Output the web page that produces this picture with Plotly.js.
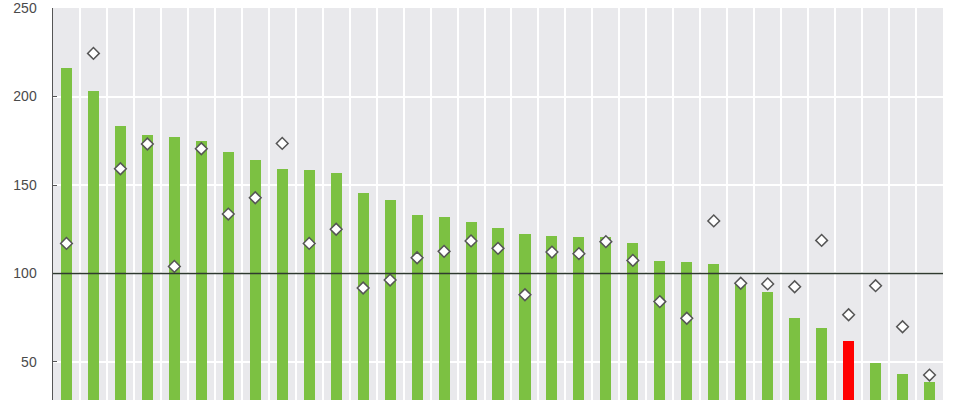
<!DOCTYPE html>
<html>
<head>
<meta charset="utf-8">
<script src="https://cdn.plot.ly/plotly-3.0.1.min.js"></script>
<style>
  html, body { margin: 0; padding: 0; background: #ffffff; }
  #chart { width: 960px; height: 400px; }
</style>
</head>
<body>
<div id="chart"></div>
<script>
// Bar values (index, sorted descending), one highlighted in red
const barValues = [216, 203, 183.5, 178, 177, 175, 168.5, 164, 158.8, 158.5, 157, 145.5,
  141.5, 133, 132, 129, 125.8, 122.3, 121.2, 120.6, 120.4, 117.2, 107.2, 106.7, 105.2,
  94.5, 89.7, 75, 69.4, 61.9, 49.6, 43.4, 38.9];
// Diamond marker values
const diamondValues = [117, 224.4, 159.2, 173.2, 104, 170.5, 133.6, 142.8, 173.5, 117, 125,
  91.8, 96.3, 108.9, 112.5, 118.4, 114.2, 88, 112.1, 111.2, 118, 107.4, 84.1, 74.7, 129.7,
  94.5, 94.1, 92.5, 118.7, 76.7, 93.1, 69.9, 42.6];
const highlightIndex = 29;
const referenceLevel = 100;
const yTickValues = [50, 100, 150, 200, 250];
const yTickLabels = ['50', '100', '150', '200', '250'];

const xPos = barValues.map((_, i) => i);
const barColors = barValues.map((_, i) => i === highlightIndex ? '#ff0000' : '#7cc142');

const traces = [
  {
    type: 'bar',
    x: xPos,
    y: barValues,
    width: 0.41,
    marker: { color: barColors, line: { width: 0 } },
    hoverinfo: 'y'
  },
  {
    type: 'scatter',
    mode: 'markers',
    x: xPos,
    y: diamondValues,
    marker: { symbol: 'diamond', size: 9, color: '#ffffff', line: { color: '#555555', width: 1.5 } },
    hoverinfo: 'y'
  }
];

const layout = {
  width: 960,
  height: 400,
  margin: { l: 53, r: 17, t: 8, b: 0, pad: 0 },
  paper_bgcolor: '#ffffff',
  plot_bgcolor: '#e9e9ec',
  showlegend: false,
  bargap: 0,
  xaxis: {
    type: 'linear',
    range: [-0.5, barValues.length - 0.5],
    tick0: -0.5,
    dtick: 1,
    showgrid: true,
    gridcolor: '#ffffff',
    gridwidth: 2,
    showticklabels: false,
    ticks: '',
    zeroline: false,
    showline: false,
    fixedrange: true
  },
  yaxis: {
    range: [28.5, 250.05],
    tickvals: yTickValues,
    ticktext: yTickLabels,
    showgrid: true,
    gridcolor: '#ffffff',
    gridwidth: 2,
    zeroline: false,
    showline: true,
    linecolor: '#555555',
    linewidth: 1.5,
    ticks: 'inside',
    ticklen: 4,
    tickcolor: '#555555',
    tickwidth: 1,
    ticklabelstandoff: 12,
    ticklabeloverflow: 'allow',
    tickfont: { family: 'Liberation Sans, Arial, sans-serif', size: 14, color: '#4a4a4a' },
    fixedrange: true
  },
  shapes: [
    {
      type: 'line',
      xref: 'paper', yref: 'y',
      x0: 0, x1: 1,
      y0: referenceLevel, y1: referenceLevel,
      line: { color: '#2f3a2f', width: 1.5 },
      layer: 'above'
    }
  ]
};

Plotly.newPlot('chart', traces, layout, { displayModeBar: false, staticPlot: true });
</script>
</body>
</html>
